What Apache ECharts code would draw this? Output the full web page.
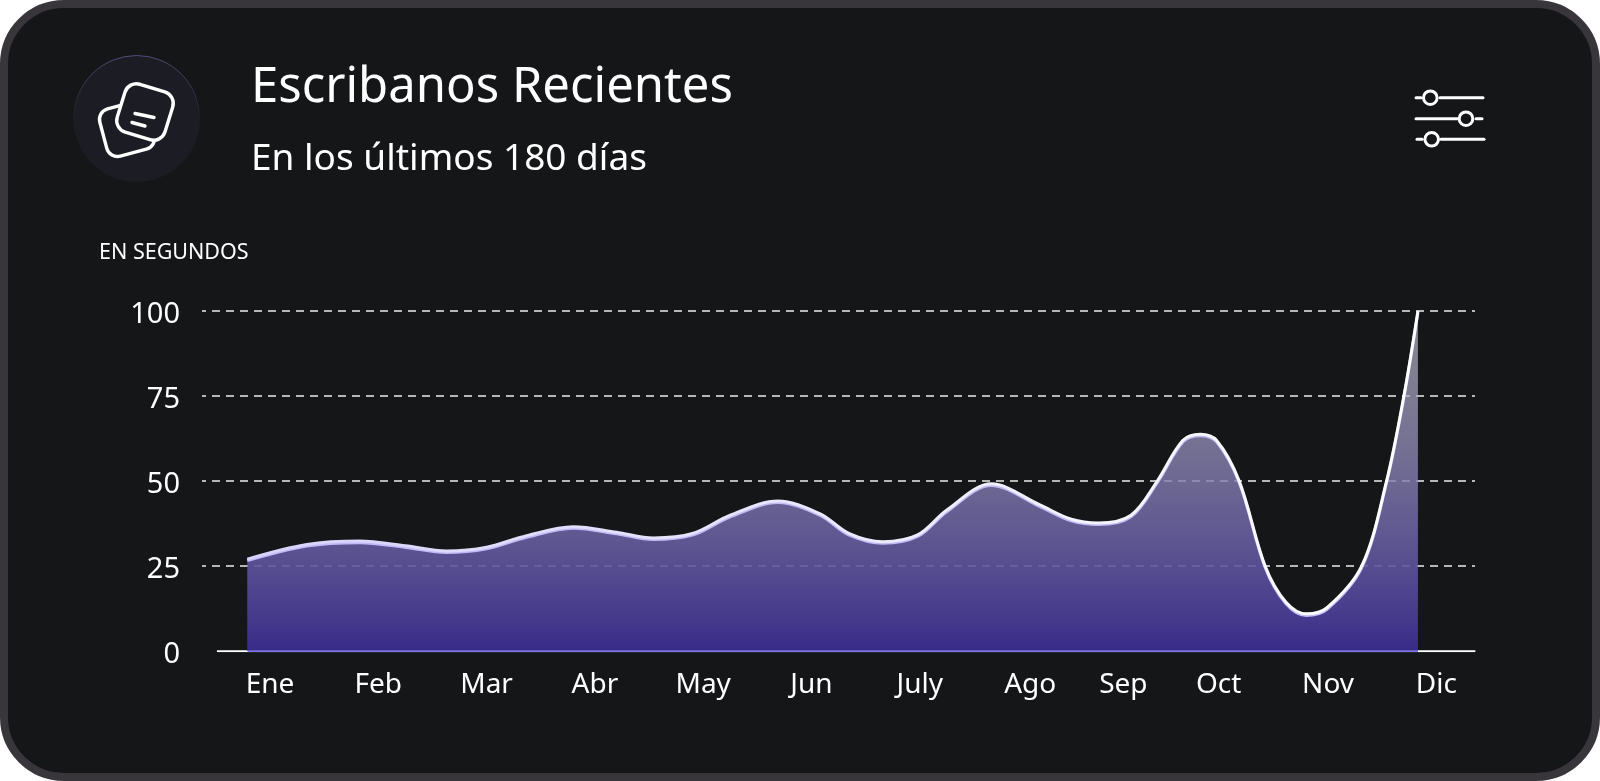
<!DOCTYPE html>
<html>
<head>
<meta charset="utf-8">
<title>Escribanos Recientes</title>
<style>
  html, body { margin: 0; padding: 0; background: #fff; }
  .card {
    position: absolute; left: 0; top: 0; width: 1600px; height: 781px;
    box-sizing: border-box; background: #151618;
    border: 8.5px solid #38363a; border-radius: 64px;
  }
  #chart { position: absolute; left: 0; top: 0; width: 1600px; height: 781px; }
</style>
</head>
<body>
<div class="card"></div>
<div id="chart"></div>
<script src="https://cdn.jsdelivr.net/npm/echarts@6/dist/echarts.min.js"></script>
<script>
const FONT = '"Noto Sans", sans-serif';

const months = ["Ene", "Feb", "Mar", "Abr", "May", "Jun", "July", "Ago", "Sep", "Oct", "Nov", "Dic"];
// los meses no estan igual de separados en el original
const monthTicks = [0, 1, 2, 3, 4, 5, 6, 7.02, 7.88, 8.76, 9.77, 10.77];

const curveX = [-0.21, 0.34, 0.83, 1.25, 1.63, 2, 2.37, 2.8, 3.2, 3.54, 3.9, 4.25, 4.69, 5.08, 5.35, 5.66, 5.98, 6.25, 6.66, 7.11, 7.4, 7.65, 7.95, 8.19, 8.43, 8.59, 8.74, 8.95, 9.19, 9.38, 9.57, 9.76, 10.08, 10.31, 10.47, 10.6];
const curveY = [27.1, 31.4, 32.4, 31, 29.5, 30.6, 34, 36.6, 35, 33.3, 34.6, 40, 44.2, 40.4, 34.6, 32.2, 34.2, 41.5, 49.2, 43, 38.8, 37.7, 40, 49.9, 62, 63.8, 62, 50, 25, 14.5, 11, 12.8, 25, 50, 75, 100];

const axisRun = [-0.49, 11.13];
const baseRun = [-0.2, 10.6];

const white = "#ffffff";

const chart = echarts.init(document.getElementById("chart"));

function icon() {
  const stroke = { stroke: white, lineWidth: 3.4, lineCap: "round" };
  return [
    {
      type: "circle", shape: { cx: 136.7, cy: 118.5, r: 63 },
      style: {
        fill: "#1c1d24", lineWidth: 1,
        stroke: new echarts.graphic.LinearGradient(0, 0, 0, 1, [
          { offset: 0, color: "#514c7c" }, { offset: 0.5, color: "#1c1d24" },
        ]),
      },
    },
    {
      type: "rect", x: 127, y: 129, rotation: 0.26,
      shape: { x: -24.5, y: -24.5, width: 49, height: 49, r: 11 },
      style: { fill: "none", ...stroke },
    },
    {
      type: "rect", x: 145, y: 112, rotation: -0.3,
      shape: { x: -25, y: -25, width: 50, height: 50, r: 12 },
      style: { fill: "#1c1d24", ...stroke },
    },
    { type: "line", shape: { x1: 135, y1: 113.5, x2: 154, y2: 117.5 }, style: stroke },
    { type: "line", shape: { x1: 132, y1: 122.5, x2: 145, y2: 126 }, style: stroke },
  ];
}

function sliders() {
  const stroke = { stroke: white, lineWidth: 3, lineCap: "round" };
  const seg = (x1, x2, y) => ({ type: "line", shape: { x1, y1: y, x2, y2: y }, style: stroke });
  const knob = (cx, cy) => ({ type: "circle", shape: { cx, cy, r: 6.8 }, style: { fill: "none", ...stroke } });
  return [
    seg(1416, 1421, 97.7), knob(1430.3, 97.7), seg(1440, 1483, 97.7),
    seg(1416, 1458, 118.7), knob(1466, 118.7), seg(1476, 1482, 118.7),
    seg(1417, 1422, 139.3), knob(1431.7, 139.3), seg(1441, 1484, 139.3),
  ];
}

const option = {
  backgroundColor: "transparent",
  animation: false,
  textStyle: { fontFamily: FONT },
  grid: { left: 202, right: 125, top: 311, bottom: 129.7 },
  graphic: [
    ...icon(),
    ...sliders(),
    { type: "text", x: 251, y: 88, style: { text: "Escribanos Recientes", fill: white, font: '49px ' + FONT, textVerticalAlign: "middle" } },
    { type: "text", x: 251, y: 159, style: { text: "En los últimos 180 días", fill: white, font: '37px ' + FONT, textVerticalAlign: "middle" } },
    { type: "text", x: 99, y: 253, style: { text: "EN SEGUNDOS", fill: white, font: '21.5px ' + FONT, textVerticalAlign: "middle" } },
  ],
  xAxis: {
    type: "value",
    min: -0.628,
    max: 11.127,
    splitLine: { show: false },
    axisLine: { show: false },
    axisTick: { show: false },
    axisLabel: {
      customValues: monthTicks,
      formatter: (v) => months[monthTicks.indexOf(v)],
      color: white,
      fontSize: 28,
      margin: 20,
      fontFamily: FONT,
    },
  },
  yAxis: {
    type: "value",
    min: 0,
    max: 100,
    interval: 25,
    axisLine: { show: false },
    axisTick: { show: false },
    axisLabel: { color: white, fontSize: 29, margin: 22, fontFamily: FONT, verticalAlign: "top", lineHeight: 7 },
    splitLine: {
      showMinLine: false,
      lineStyle: { color: "rgba(255,255,255,0.92)", width: 1.5, type: [8, 6], dashOffset: 4 },
    },
  },
  series: [
    {
      name: "eje",
      type: "line",
      silent: true,
      symbol: "none",
      z: 1,
      lineStyle: { color: white, width: 2 },
      data: axisRun.map((x) => [x, 0]),
    },
    {
      name: "Escribanos",
      type: "line",
      smooth: 0.34,
      symbol: "none",
      z: 3,
      lineStyle: {
        width: 3,
        color: new echarts.graphic.LinearGradient(0, 0, 1, 0, [
          { offset: 0, color: "#d6d2fb" },
          { offset: 0.6, color: "#eeecfe" },
          { offset: 1, color: white },
        ]),
        shadowColor: "#c0baf8",
        shadowOffsetY: 1.6,
        shadowBlur: 0,
      },
      areaStyle: {
        opacity: 1,
        color: new echarts.graphic.LinearGradient(0, 0, 0, 1, [
          { offset: 0, color: "rgba(205,205,215,0.62)" },
          { offset: 1, color: "rgba(58,44,140,0.98)" },
        ]),
      },
      data: curveX.map((x, i) => [x, curveY[i]]),
    },
    {
      name: "base",
      type: "line",
      silent: true,
      symbol: "none",
      z: 4,
      lineStyle: { color: "#7b70e2", width: 2 },
      data: baseRun.map((x) => [x, 0]),
    },
  ],
};

chart.setOption(option);
</script>
</body>
</html>
